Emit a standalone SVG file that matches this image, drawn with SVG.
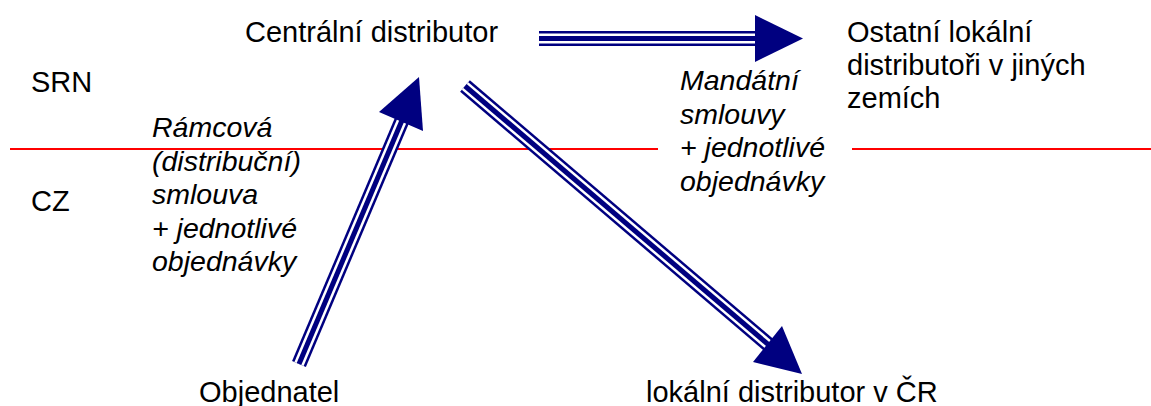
<svg xmlns="http://www.w3.org/2000/svg" width="1151" height="406" viewBox="0 0 1151 406">
<style>
text{font-family:"Liberation Sans",Arial,sans-serif;font-size:29px;fill:#000}
.it{font-style:italic;font-size:28.5px}
.s1{fill:none;stroke:#000080;stroke-width:15}
.s2{fill:none;stroke:#fff;stroke-width:10}
.s3{fill:none;stroke:#000080;stroke-width:5}
.hd{fill:#000080}
.bd{stroke:#ff0000;stroke-width:2}
</style>
<rect width="1151" height="406" fill="#fff"/>
<g id="border">
<line class="bd" x1="10" y1="149" x2="1151" y2="149"/>
</g>
<g id="connectors">
<g id="c-central-ostatni">
<path class="s1" d="M539 38.5 H757"/><path class="s2" d="M539 38.5 H757"/><path class="s3" d="M539 38.5 H757"/>
<polygon class="hd" points="755,15 803,38.5 755,62"/>
</g>
<g id="c-objednatel-central">
<path class="s1" d="M299 364 L403 118"/><path class="s2" d="M299 364 L403 118"/><path class="s3" d="M299 364 L403 118"/>
<polygon class="hd" points="419,77 423,131 379,112"/>
</g>
<g id="c-central-lokalni">
<path class="s1" d="M465 86 L770 346"/><path class="s2" d="M465 86 L770 346"/><path class="s3" d="M465 86 L770 346"/>
<polygon class="hd" points="802,374 753,362 782,326"/>
</g>
<g id="label-ramcova">
<text class="it" x="152" y="137">Rámcová</text>
<text class="it" x="152" y="170.5">(distribuční)</text>
<text class="it" x="152" y="204">smlouva</text>
<text class="it" x="152" y="237.5">+ jednotlivé</text>
<text class="it" x="152" y="271">objednávky</text>
</g>
<g id="label-mandatni">
<rect x="658" y="64" width="194" height="138" fill="#fff"/>
<text class="it" x="680" y="90">Mandátní</text>
<text class="it" x="680" y="123.5">smlouvy</text>
<text class="it" x="680" y="157">+ jednotlivé</text>
<text class="it" x="680" y="190.5">objednávky</text>
</g>
</g>
<g id="srn"><text x="31" y="92">SRN</text></g>
<g id="cz"><text x="31" y="211">CZ</text></g>
<g id="centralni"><text x="245" y="42">Centrální distributor</text></g>
<g id="ostatni">
<text x="847" y="42">Ostatní lokální</text>
<text x="847" y="75">distributoři v jiných</text>
<text x="847" y="108">zemích</text>
</g>
<g id="objednatel"><text x="199" y="402">Objednatel</text></g>
<g id="lokalni"><text x="646" y="402">lokální distributor v ČR</text></g>
</svg>
